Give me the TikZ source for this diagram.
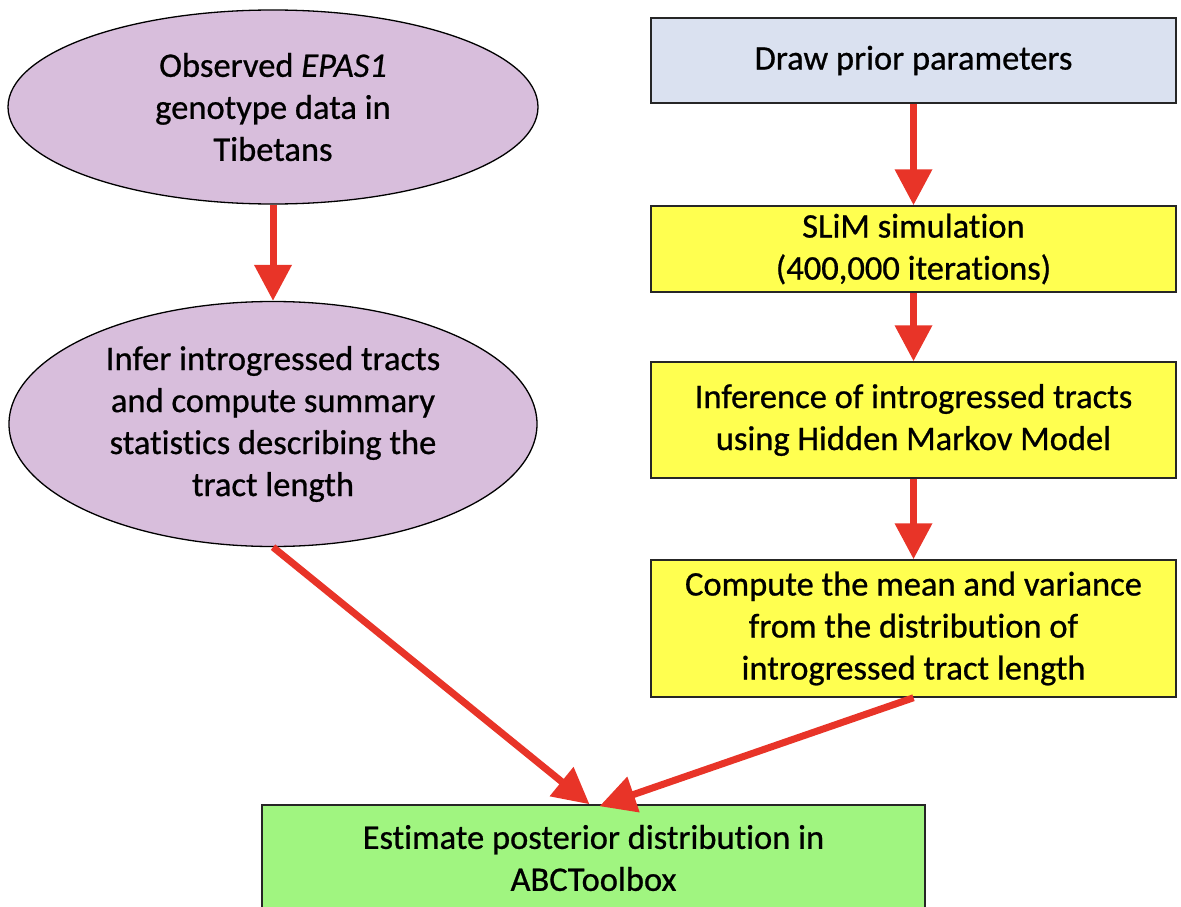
\documentclass[tikz,border=0pt]{standalone}
\usepackage{fontspec}
\setmainfont[Ligatures=NoCommon,FakeBold=0.7]{Carlito}
\usetikzlibrary{shapes.geometric,arrows.meta,calc}
\definecolor{purp}{RGB}{216,190,220}
\definecolor{lblue}{RGB}{218,225,240}
\definecolor{yel}{RGB}{255,255,80}
\definecolor{grn}{RGB}{160,245,128}
\definecolor{redarr}{RGB}{232,52,40}
\begin{document}
\begin{tikzpicture}[x=1pt,y=-1pt,
  every node/.style={font=\fontsize{34.5}{42}\selectfont, align=center, inner sep=0pt},
  oval/.style={ellipse, draw=black, line width=1.3pt, fill=purp},
  rbox/.style={rectangle, draw=black!85, line width=1.5pt, minimum width=525pt},
  arr/.style={draw=redarr, line width=7pt, -{Triangle[width=36pt,length=36pt]}}
]
\useasboundingbox (0,0) rectangle (1181,907);
\node[oval, minimum width=530pt, minimum height=194pt] (e1) at (273,107)
  {Observed \textit{EPAS1}\\genotype data in\\Tibetans};
\node[oval, minimum width=528pt, minimum height=245pt] (e2) at (273,424)
  {Infer introgressed tracts\\and compute summary\\statistics describing the\\tract length};
\node[rbox, fill=lblue, minimum height=85pt] (b1) at (913.5,60.5) {Draw prior parameters};
\node[rbox, fill=yel, minimum height=86pt] (b2) at (913.5,249) {SLiM simulation\\(400,000 iterations)};
\node[rbox, fill=yel, minimum height=116pt] (b3) at (913.5,420) {Inference of introgressed tracts\\using Hidden Markov Model};
\node[rbox, fill=yel, minimum height=137pt] (b4) at (913.5,628.5) {Compute the mean and variance\\from the distribution of\\introgressed tract length};
\node[rectangle, draw=black!85, line width=1.5pt, fill=grn, minimum width=663pt, minimum height=106pt] (g) at (593.5,858)
  {Estimate posterior distribution in\\ABCToolbox};
\coordinate (gl) at ($(g.north)+(-4,0)$);
\coordinate (gr) at ($(g.north)+(6,2)$);
\draw[arr] (e1.south) -- (e2.north);
\draw[arr] (b1.south) -- (b2.north);
\draw[arr] (b2.south) -- (b3.north);
\draw[arr] (b3.south) -- (b4.north);
\draw[arr] (e2.south) -- (gl);
\draw[arr] (b4.south) -- (gr);
\end{tikzpicture}
\end{document}
